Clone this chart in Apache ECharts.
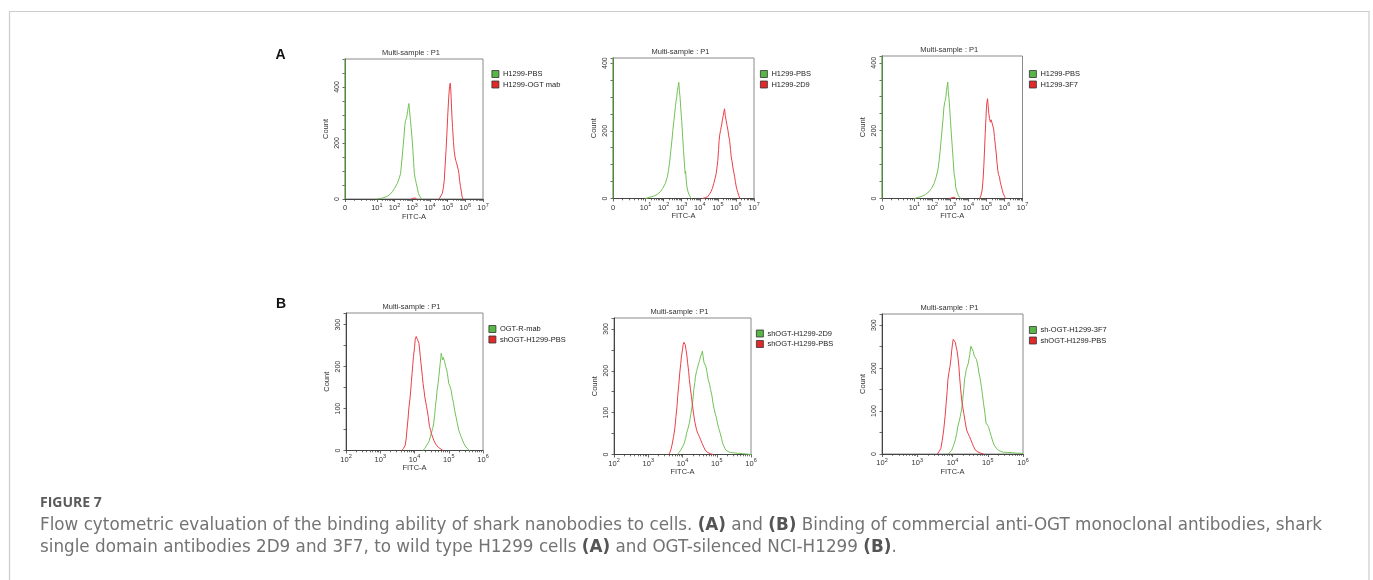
<!DOCTYPE html>
<html><head><meta charset="utf-8">
<script src="https://cdn.jsdelivr.net/npm/echarts@6/dist/echarts.min.js"></script>
<style>html,body{margin:0;padding:0;background:#fff}#c{width:1373px;height:580px}</style>
</head><body><div id="c"></div>
<script>
// ---------- data (x in log10 FITC units; '-' breaks a line) ----------
const tickLabelsA = ['0','10^1','10^2','10^3','10^4','10^5','10^6','10^7'];
const tickLabelsB = ['10^2','10^3','10^4','10^5','10^6'];
const yLabelsA = [0,200,400];
const yLabelsB = [0,100,200,300];
const yMax = [500,415,420,328,326,326];
const legendNames = [
  ['H1299-PBS','H1299-OGT mab'],
  ['H1299-PBS','H1299-2D9'],
  ['H1299-PBS','H1299-3F7'],
  ['OGT-R-mab','shOGT-H1299-PBS'],
  ['shOGT-H1299-2D9','shOGT-H1299-PBS'],
  ['sh-OGT-H1299-3F7','shOGT-H1299-PBS']
];
const a1_pbs = [[-0.8,999],[-0.8,0],[-0.8,'-'],[1.0,0],[1.3,3],[1.53,8],[1.7,14],[1.88,26],[2.0,38],[2.15,55],[2.25,72],[2.34,90],[2.43,150],[2.48,185],[2.53,220],[2.58,262],[2.62,280],[2.68,290],[2.74,314],[2.78,330],[2.81,341],[2.84,320],[2.87,300],[2.9,280],[2.94,255],[2.99,215],[3.04,173],[3.08,130],[3.12,90],[3.18,70],[3.23,55],[3.3,35],[3.35,20],[3.42,10],[3.47,4],[3.53,0]];
const a1_ogt = [[2.95,0],[3.05,3],[3.15,4],[3.25,0],[3.26,'-'],[4.52,0],[4.6,6],[4.7,20],[4.76,40],[4.81,67],[4.86,120],[4.91,173],[4.96,235],[5.0,290],[5.06,361],[5.11,402],[5.15,414],[5.18,390],[5.2,361],[5.24,300],[5.28,255],[5.33,205],[5.37,173],[5.42,150],[5.46,138],[5.5,130],[5.55,126],[5.6,105],[5.64,90],[5.68,65],[5.73,44],[5.78,25],[5.82,8],[5.87,0]];
const a2_pbs = [[-0.8,999],[-0.8,0],[-0.8,'-'],[1.0,0],[1.2,3],[1.45,7],[1.65,12],[1.82,20],[1.95,30],[2.09,44],[2.2,62],[2.27,83],[2.34,110],[2.4,142],[2.46,172],[2.51,201],[2.57,230],[2.62,255],[2.66,275],[2.69,289],[2.73,300],[2.76,319],[2.8,330],[2.84,343],[2.87,320],[2.91,299],[2.95,265],[3.0,230],[3.05,185],[3.1,142],[3.15,105],[3.19,74],[3.22,80],[3.25,55],[3.29,34],[3.35,20],[3.42,10],[3.48,4],[3.54,0]];
const a2_2d9 = [[4.15,0],[4.3,2],[4.43,5],[4.53,12],[4.62,20],[4.7,30],[4.77,44],[4.84,58],[4.91,74],[4.96,95],[5.0,113],[5.04,145],[5.07,172],[5.11,190],[5.15,201],[5.19,212],[5.22,220],[5.26,235],[5.3,245],[5.33,255],[5.37,265],[5.41,245],[5.46,230],[5.51,215],[5.56,201],[5.6,185],[5.65,172],[5.7,145],[5.74,123],[5.79,108],[5.83,93],[5.88,78],[5.93,64],[5.97,50],[6.02,34],[6.07,24],[6.11,17],[6.16,8],[6.22,0]];
const a3_pbs = [[-0.8,999],[-0.8,0],[-0.8,'-'],[1.0,0],[1.2,3],[1.43,7],[1.62,12],[1.81,20],[1.95,30],[2.09,44],[2.2,62],[2.3,83],[2.37,110],[2.43,142],[2.48,172],[2.53,201],[2.59,235],[2.64,270],[2.68,282],[2.71,289],[2.75,300],[2.78,319],[2.82,332],[2.85,343],[2.88,315],[2.92,294],[2.96,265],[3.0,230],[3.05,190],[3.1,152],[3.15,115],[3.2,74],[3.23,78],[3.26,55],[3.29,34],[3.36,20],[3.43,10],[3.5,4],[3.59,0]];
const a3_3f7 = [[2.95,0],[3.05,3],[3.2,4],[3.3,0],[3.31,'-'],[4.63,0],[4.7,10],[4.76,25],[4.81,55],[4.85,93],[4.89,140],[4.93,191],[4.97,235],[5.0,270],[5.03,285],[5.06,294],[5.09,275],[5.13,250],[5.17,235],[5.22,225],[5.26,232],[5.31,235],[5.34,228],[5.37,230],[5.4,205],[5.44,183],[5.49,158],[5.54,134],[5.58,108],[5.63,83],[5.67,70],[5.72,64],[5.76,50],[5.81,39],[5.87,26],[5.93,15],[6.0,6],[6.06,0]];
const b1_mab = [[4.25,0],[4.3,5],[4.35,9],[4.42,21],[4.49,41],[4.53,52],[4.56,65],[4.59,85],[4.61,105],[4.64,125],[4.66,144],[4.69,160],[4.71,176],[4.73,192],[4.75,208],[4.77,222],[4.78,232],[4.8,224],[4.82,216],[4.84,222],[4.86,224],[4.88,212],[4.91,200],[4.94,192],[4.96,184],[4.98,172],[5.0,160],[5.04,152],[5.07,144],[5.1,128],[5.14,113],[5.17,97],[5.21,81],[5.25,65],[5.29,49],[5.33,40],[5.36,33],[5.4,25],[5.44,17],[5.48,11],[5.51,7],[5.56,3],[5.61,0]];
const b1_pbs = [[3.63,0],[3.68,5],[3.73,13],[3.76,30],[3.78,49],[3.81,75],[3.84,105],[3.87,125],[3.89,144],[3.91,165],[3.93,184],[3.95,205],[3.97,224],[4.0,245],[4.02,264],[4.05,272],[4.07,268],[4.09,264],[4.11,260],[4.13,256],[4.15,240],[4.17,224],[4.19,208],[4.21,192],[4.23,176],[4.25,160],[4.28,142],[4.3,128],[4.33,115],[4.35,105],[4.38,92],[4.4,81],[4.42,68],[4.44,57],[4.47,48],[4.49,41],[4.53,32],[4.56,25],[4.6,18],[4.64,13],[4.69,8],[4.74,5],[4.83,0]];
const b2_2d9 = [[3.85,0],[3.9,5],[3.95,11],[4.0,18],[4.05,27],[4.09,38],[4.12,51],[4.16,62],[4.2,75],[4.24,95],[4.28,115],[4.31,135],[4.33,155],[4.36,172],[4.38,187],[4.41,198],[4.45,211],[4.49,222],[4.53,235],[4.56,240],[4.58,247],[4.6,235],[4.63,219],[4.66,215],[4.68,211],[4.72,195],[4.75,179],[4.79,168],[4.82,155],[4.86,140],[4.89,123],[4.92,110],[4.95,99],[4.99,88],[5.02,75],[5.06,62],[5.1,51],[5.14,38],[5.17,27],[5.22,18],[5.26,11],[5.33,7],[5.4,5],[5.5,4],[5.6,3],[5.75,2],[5.89,1],[6.0,0]];
const b2_pbs = [[3.6,0],[3.63,5],[3.66,11],[3.7,25],[3.74,43],[3.78,65],[3.81,91],[3.84,115],[3.86,139],[3.89,165],[3.92,195],[3.95,218],[3.97,235],[4.0,250],[4.02,263],[4.04,268],[4.06,271],[4.08,262],[4.1,251],[4.13,235],[4.15,219],[4.18,198],[4.2,179],[4.23,158],[4.26,139],[4.29,118],[4.32,99],[4.36,78],[4.41,59],[4.45,50],[4.49,43],[4.53,35],[4.57,27],[4.62,18],[4.66,11],[4.73,5],[4.81,2],[4.9,0]];
const b3_3f7 = [[3.88,0],[3.93,4],[3.98,9],[4.03,20],[4.08,33],[4.12,48],[4.15,64],[4.19,76],[4.22,87],[4.26,105],[4.29,126],[4.32,150],[4.34,173],[4.37,186],[4.39,196],[4.42,204],[4.45,212],[4.49,232],[4.52,251],[4.54,250],[4.56,247],[4.59,238],[4.62,228],[4.65,224],[4.68,220],[4.72,205],[4.75,189],[4.79,173],[4.82,157],[4.85,138],[4.88,118],[4.92,95],[4.95,72],[4.99,68],[5.02,64],[5.06,52],[5.1,41],[5.14,30],[5.18,21],[5.24,14],[5.3,9],[5.38,6],[5.45,4],[5.55,4],[5.7,3],[5.8,2],[5.9,2],[6.0,1]];
const b3_pbs = [[3.57,0],[3.62,6],[3.67,13],[3.71,32],[3.75,56],[3.79,88],[3.82,118],[3.85,148],[3.87,173],[3.9,190],[3.93,204],[3.96,225],[3.98,243],[4.0,256],[4.02,267],[4.06,270],[4.08,260],[4.1,251],[4.13,240],[4.15,228],[4.18,205],[4.2,181],[4.23,152],[4.26,126],[4.29,110],[4.32,95],[4.36,75],[4.4,56],[4.44,48],[4.48,41],[4.52,33],[4.56,25],[4.6,17],[4.65,9],[4.72,5],[4.8,2],[4.88,0]];
const seriesData = [
  [a1_pbs, a1_ogt],
  [a2_pbs, a2_2d9],
  [a3_pbs, a3_3f7],
  [b1_mab, b1_pbs],
  [b2_2d9, b2_pbs],
  [b3_3f7, b3_pbs]
];
const seriesKind = [['g','r'],['g','r'],['g','r'],['g','r'],['g','r'],['g','r']];
const captionTitle = 'FIGURE 7';
const captionLine1 = 'Flow cytometric evaluation of the binding ability of shark nanobodies to cells. {b|(A)} and {b|(B)} Binding of commercial anti-OGT monoclonal antibodies, shark';
const captionLine2 = 'single domain antibodies 2D9 and 3F7, to wild type H1299 cells {b|(A)} and OGT-silenced NCI-H1299 {b|(B)}.';

// ---------- layout / style ----------
const F = 'Arial, "Liberation Sans", sans-serif';
const CF = '"DejaVu Sans", sans-serif';
const CS = 16.8;
const grids = [
  [345,59,138,140],[613,58,141,140.5],[882,56,140.5,142.5],
  [346,313,137,137.5],[614,318,137,136.5],[882,314,141,140]
];
const legendPos = [[491.5,70],[760,70],[1029,70],[488.5,325],[756,329.5],[1029,326]];
const lineColor = {g:'#72c257', r:'#ea4048'};
const fillColor = {g:'#58b646', r:'#e02a2a'};

const chart = echarts.init(document.getElementById('c'), null, {renderer:'canvas'});
const option = {animation:false, grid:[], xAxis:[], yAxis:[], series:[], legend:[], graphic:[]};

function minorTicks(isA){
  const t=[];
  const d0 = isA?1:2, d1 = isA?7:6;
  for(let d=d0; d<d1; d++) for(let k=2;k<=9;k++) t.push(d+Math.log10(k));
  if(isA){ [-0.3,0.1,0.4,0.6,0.75,0.88].forEach(v=>t.push(v)); }
  return t;
}
function supLabel(s){
  const p = s.split('^');
  return p.length===1 ? '{n|'+p[0]+'}' : '{n|'+p[0]+'}{s|'+p[1]+'}';
}

grids.forEach((g,i)=>{
  const isA = i<3;
  const xmin = isA?-0.8:2, xmax = isA?7:6;
  const majors = isA?[-0.8,1,2,3,4,5,6,7]:[2,3,4,5,6];
  const labels = isA?tickLabelsA:tickLabelsB;
  option.grid.push({left:g[0],top:g[1],width:g[2],height:g[3],show:true,borderColor:'#8a8a8a',borderWidth:1,containLabel:false});
  option.xAxis.push({type:'value',gridIndex:i,min:xmin,max:xmax,position:'bottom',
    axisLine:{show:true,onZero:false,lineStyle:{color:'#444',width:1}},
    axisTick:{show:true,customValues:majors,length:3,lineStyle:{color:'#444',width:0.8}},
    axisLabel:{customValues:majors,color:'#333',fontFamily:F,margin:3,
      rich:{n:{fontSize:7.5,lineHeight:10,verticalAlign:'bottom',fontFamily:F,color:'#333'},
            s:{fontSize:5.5,lineHeight:6,verticalAlign:'top',fontFamily:F,color:'#333'}},
      formatter:(v)=>{let best=0;majors.forEach((m,j)=>{if(Math.abs(m-v)<Math.abs(majors[best]-v))best=j;});return supLabel(labels[best]);}},
    splitLine:{show:false},
    name:'FITC-A',nameLocation:'middle',nameGap:13.5,nameTextStyle:{fontSize:7.5,color:'#333',fontFamily:F}});
  option.xAxis.push({type:'value',gridIndex:i,min:xmin,max:xmax,position:'bottom',
    axisLine:{show:false,onZero:false},
    axisTick:{show:true,customValues:minorTicks(isA),length:1.8,lineStyle:{color:'#444',width:0.8}},
    axisLabel:{show:false},splitLine:{show:false}});
  option.yAxis.push({type:'value',gridIndex:i,min:0,max:yMax[i],interval:50,
    axisLine:{show:true,onZero:false,lineStyle:{color:'#444',width:1}},
    axisTick:{show:true,length:2.5,lineStyle:{color:'#444',width:0.8}},
    axisLabel:{customValues:isA?yLabelsA:yLabelsB,rotate:90,fontSize:7,color:'#333',fontFamily:F,margin:4},
    splitLine:{show:false},
    name:'Count',nameLocation:'middle',nameGap:15,nameRotate:90,nameTextStyle:{fontSize:7.5,color:'#333',fontFamily:F}});
  seriesData[i].forEach((d,j)=>{
    const k = seriesKind[i][j];
    option.series.push({type:'line',name:legendNames[i][j],xAxisIndex:2*i,yAxisIndex:i,data:d,
      symbol:'none',showSymbol:false,connectNulls:false,clip:true,
      lineStyle:{color:lineColor[k],width:1},itemStyle:{color:fillColor[k]},z:3});
  });
  option.legend.push({data:legendNames[i].map(n=>({name:n,icon:'rect'})),left:legendPos[i][0],top:legendPos[i][1],
    orient:'vertical',itemWidth:7,itemHeight:7,itemGap:2.5,padding:0,selectedMode:false,
    itemStyle:{borderColor:'#333',borderWidth:0.8},
    textStyle:{fontSize:7.5,color:'#222',fontFamily:F,padding:[0,0,0,-1]}});
  option.graphic.push({type:'text',x:g[0]+g[2]/2-3,y:g[1]-6,z:10,
    style:{text:'Multi-sample : P1',align:'center',verticalAlign:'middle',fontSize:7.5,fontFamily:F,fill:'#333'}});
});

option.graphic.push({type:'text',x:280.5,y:55.5,style:{text:'A',align:'center',verticalAlign:'middle',fontSize:14,fontWeight:'bold',fontFamily:F,fill:'#111'}});
option.graphic.push({type:'text',x:281,y:304,style:{text:'B',align:'center',verticalAlign:'middle',fontSize:14,fontWeight:'bold',fontFamily:F,fill:'#111'}});
option.graphic.push({type:'rect',shape:{x:9.5,y:11.5,width:1359.5,height:620},style:{fill:'none',stroke:'#cccccc',lineWidth:1.2},z:0});
option.graphic.push({type:'text',x:40,y:503,style:{text:captionTitle,verticalAlign:'middle',fontSize:14,fontWeight:'bold',fontFamily:'"Open Sans", sans-serif',fill:'#5a5a5a'}});
const rich = {b:{fontSize:CS,fontWeight:'bold',fontFamily:CF,fill:'#555',color:'#555'}};
option.graphic.push({type:'text',x:40,y:526,style:{text:captionLine1,rich:rich,verticalAlign:'middle',fontSize:CS,fontFamily:CF,fill:'#737373'}});
option.graphic.push({type:'text',x:40,y:548,style:{text:captionLine2,rich:rich,verticalAlign:'middle',fontSize:CS,fontFamily:CF,fill:'#737373'}});

chart.setOption(option);
</script></body></html>
